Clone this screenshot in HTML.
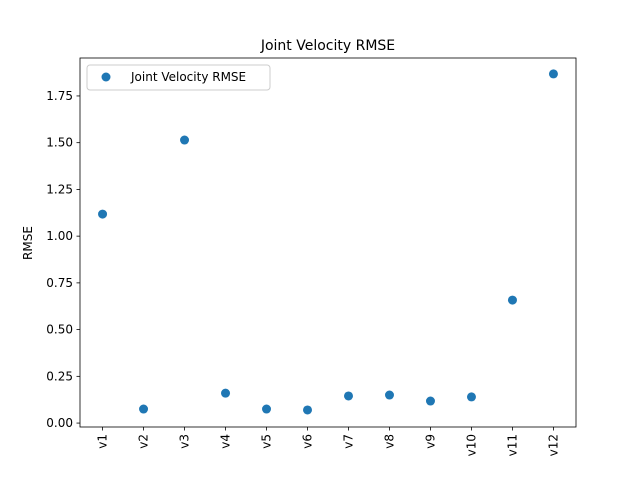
<!DOCTYPE html>
<html><head><meta charset="utf-8"><style>
body{margin:0;background:#fff;}
svg{font-family:"DejaVu Sans","Liberation Sans",sans-serif;}
</style></head><body>
<svg id="chart" width="640" height="480" xmlns="http://www.w3.org/2000/svg">
<rect width="640" height="480" fill="#fff"/>
<text x="328" y="50" font-size="14" text-anchor="middle">Joint Velocity RMSE</text>
<g id="plot"></g>
<rect x="80" y="58" width="496" height="369" fill="none" stroke="#000" stroke-width="0.8"/>
<text transform="translate(32,243) rotate(-90)" font-size="12" text-anchor="middle">RMSE</text>
<g>
<rect x="87" y="65" width="183" height="25" rx="3" fill="#fff" fill-opacity="0.8" stroke="#ccc"/>
<circle cx="106" cy="77" r="4.5" fill="#1f77b4"/>
<text x="131" y="81" font-size="12">Joint Velocity RMSE</text>
</g>
</svg>
<script>
const categories=["v1","v2","v3","v4","v5","v6","v7","v8","v9","v10","v11","v12"];
const rmseValues=[1.118,0.075,1.514,0.16,0.075,0.07,0.145,0.15,0.118,0.14,0.658,1.868];
const yTicks=[0,0.25,0.5,0.75,1.0,1.25,1.5,1.75];
const yTickLabels=["0.00","0.25","0.50","0.75","1.00","1.25","1.50","1.75"];
const NS="http://www.w3.org/2000/svg";
const L=80,R=576,T=58,B=427;
const yMin=-0.021,yMax=1.953;
const n=categories.length;
const pad=0.55;
function xs(i){return L+(i+pad)*(R-L)/(n-1+2*pad);}
function ys(v){return B-(v-yMin)/(yMax-yMin)*(B-T);}
const g=document.getElementById('plot');
function mk(t,a){const e=document.createElementNS(NS,t);for(const k in a)e.setAttribute(k,a[k]);g.appendChild(e);return e;}
yTicks.forEach((v,i)=>{
 const y=ys(v);
 const t=mk('line',{x1:L-3.5,x2:L,y1:y,y2:y,stroke:'#000','stroke-width':0.8});
 
 
 const l=mk('text',{x:L-7,y:y+4,'font-size':12,'text-anchor':'end'});
 l.textContent=yTickLabels[i];
 
 
});
categories.forEach((c,i)=>{
 const x=xs(i);
 const t=mk('line',{x1:x,x2:x,y1:B,y2:B+3.5,stroke:'#000','stroke-width':0.8});
 
 
 const l=mk('text',{transform:`translate(${x+4},${B+7}) rotate(-90)`,'font-size':12,'text-anchor':'end'});
 l.textContent=c;
 
 
 const p=mk('circle',{cx:x,cy:ys(rmseValues[i]),r:4.5,fill:'#1f77b4'});
 
 
});
</script>
</body></html>
